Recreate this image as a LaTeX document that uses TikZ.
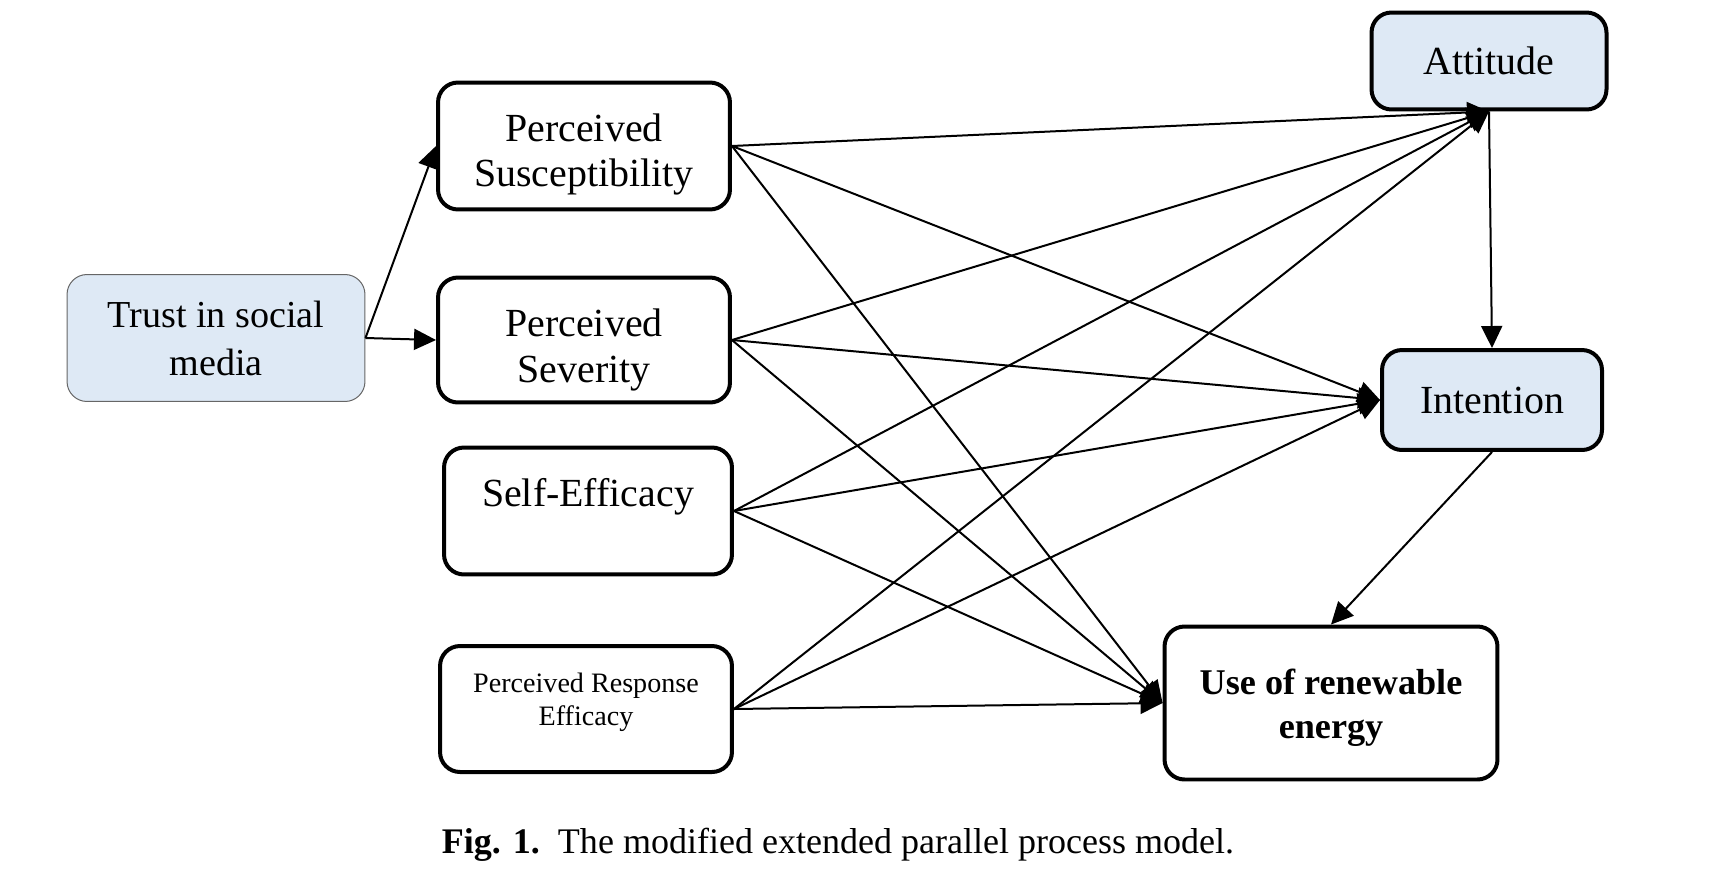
\documentclass[tikz,border=0pt]{standalone}
\usepackage{fontspec}
\setmainfont{Liberation Serif}
\usetikzlibrary{arrows.meta}
\definecolor{boxblue}{HTML}{DEE9F5}
% text block lifted or lowered inside its box, box size kept
\newcommand{\boxtext}[2]{\raisebox{#1}[\height][\depth]{\begin{tabular}{@{}c@{}}#2\end{tabular}}}

\begin{document}
\begin{tikzpicture}[x=0.02cm, y=-0.02cm,
    box/.style={draw, line width=0.08cm, rounded corners=0.4cm, align=center, inner sep=0pt,
      font=\fontsize{22.7pt}{26pt}\selectfont},
    bluebox/.style={box, fill=boxblue},
    arr/.style={line width=0.04cm, -{Triangle[length=0.44cm, width=0.42cm]}}]
    \useasboundingbox (0,0) rectangle (1709,876);

    % predictor and threat/efficacy boxes
    \node[bluebox, draw=black!60, line width=0.02cm, minimum width=5.96cm, minimum height=2.54cm,
      font=\fontsize{21.7pt}{27.5pt}\selectfont] (trust) at (216,338) {\boxtext{-0.08cm}{Trust in social\\media}};
    \node[box, minimum width=5.84cm, minimum height=2.54cm] (ps)   at (584,146) {\boxtext{-0.18cm}{Perceived\\Susceptibility}};
    \node[box, minimum width=5.84cm, minimum height=2.5cm]  (psev) at (584,340) {\boxtext{-0.21cm}{Perceived\\Severity}};
    \node[box, minimum width=5.76cm, minimum height=2.54cm] (se)   at (588,511) {\boxtext{0.28cm}{Self-Efficacy}};
    \node[box, minimum width=5.84cm, minimum height=2.52cm,
      font=\fontsize{16pt}{19pt}\selectfont] (pre) at (586,709) {\boxtext{0.13cm}{Perceived Response\\Efficacy}};

    % outcome boxes
    \node[bluebox, minimum width=4.7cm, minimum height=1.94cm] (att) at (1489,61)  {Attitude};
    \node[bluebox, minimum width=4.4cm, minimum height=2cm]    (int) at (1492,400) {Intention};
    \node[box, minimum width=6.66cm, minimum height=3.06cm,
      font=\fontsize{20.6pt}{25pt}\selectfont\bfseries] (use) at (1331,703) {\boxtext{-0.1cm}{Use of renewable\\energy}};

    \path (trust.east) edge[arr] (ps.west) edge[arr] (psev.west);

    \path (ps.east)   edge[arr] (att.south) edge[arr] (int.west) edge[arr] (use.west);
    \path (psev.east) edge[arr] (att.south) edge[arr] (int.west) edge[arr] (use.west);
    \path (se.east)   edge[arr] (att.south) edge[arr] (int.west) edge[arr] (use.west);
    \path (pre.east)  edge[arr] (att.south) edge[arr] (int.west) edge[arr] (use.west);

    \draw[arr] (att.south) -- (int.north);
    \draw[arr] (int.south) -- (use.north);

    \node[anchor=base, font=\fontsize{20.5pt}{24pt}\selectfont] (cap) at (838,853)
      {\textbf{Fig. 1.}\ \ The modified extended parallel process model.};
  \end{tikzpicture}
\end{document}
